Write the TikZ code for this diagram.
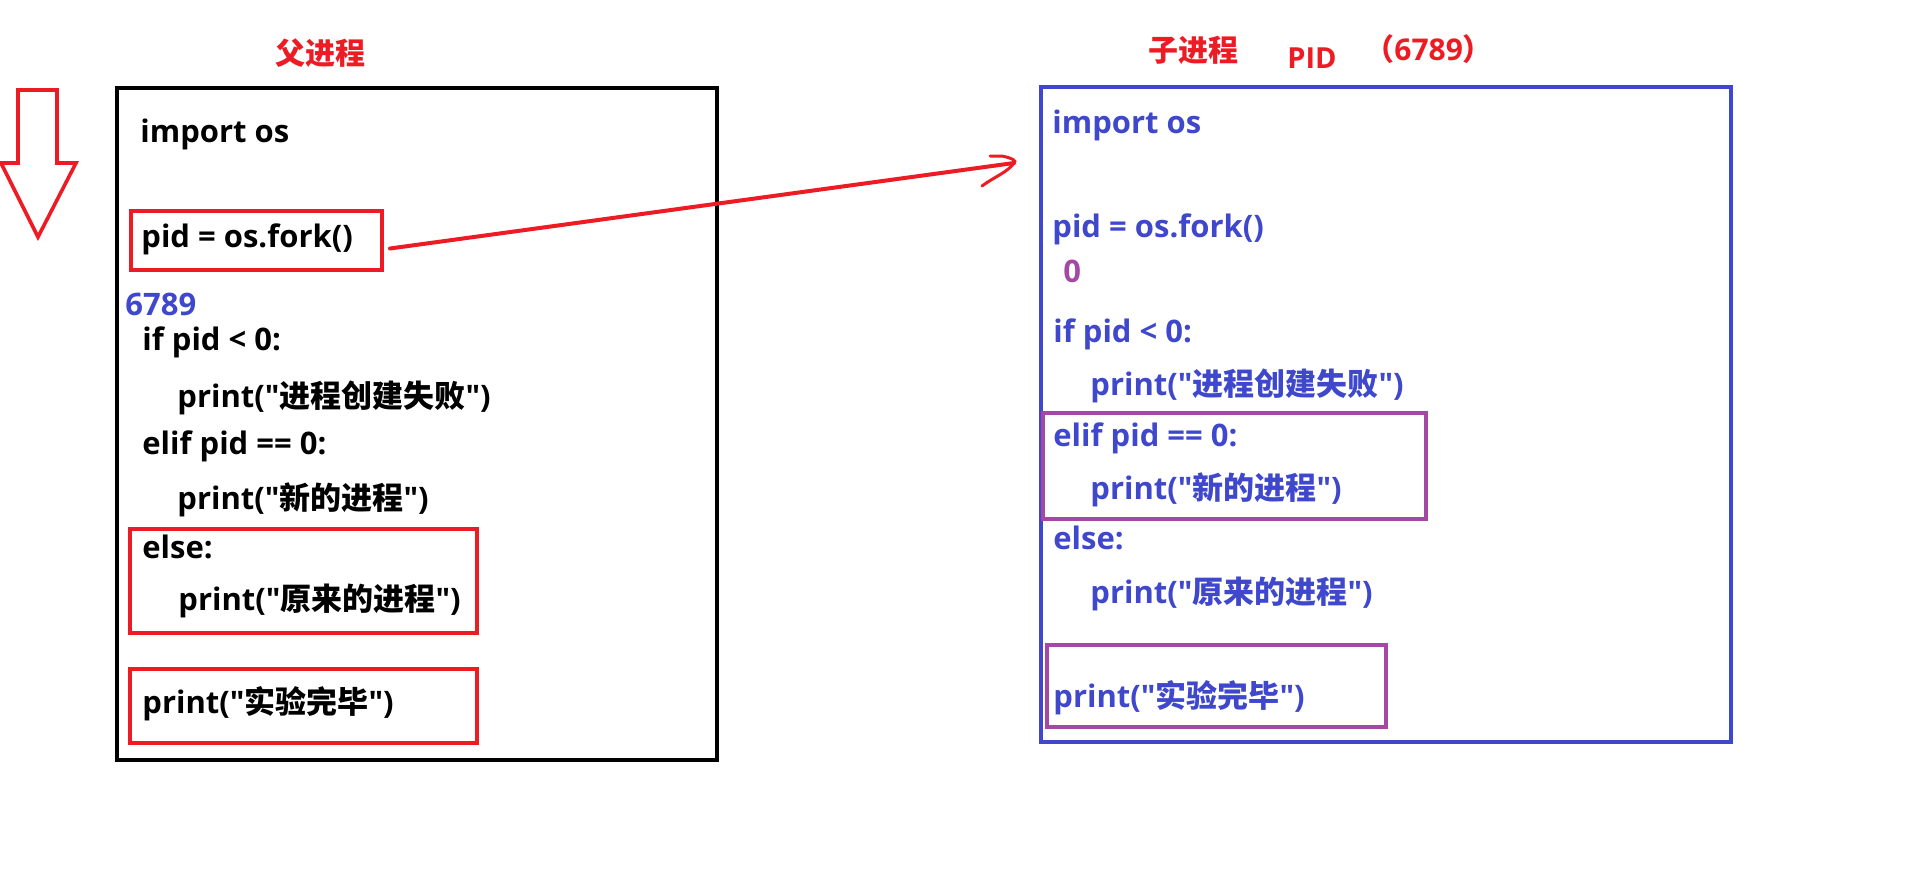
\documentclass[tikz,border=0pt]{standalone}
\usepackage{fontspec}
\setmainfont{Open Sans}[Ligatures=TeXOff]
\newfontfamily\cjk{Noto Sans CJK SC}[Ligatures=TeXOff]
\newcommand{\zh}[1]{{\cjk #1}}
\usepackage{tikz}
\usetikzlibrary{positioning, fit, arrows.meta}
\definecolor{paintred}{HTML}{ED1C24}
\definecolor{paintblue}{HTML}{3F48CC}
\definecolor{paintpurple}{HTML}{A349A4}

\begin{document}
\begin{tikzpicture}[
		x=0.5pt, y=-0.5pt,
		code/.style={anchor=base west, inner sep=0pt, font=\bfseries\fontsize{15.5}{18}\selectfont},
		title/.style={inner sep=0pt, text=paintred, font=\bfseries\fontsize{15}{18}\selectfont},
		frame/.style={draw, line width=2pt, inner sep=0pt},
		mark box/.style={draw=paintred, line width=2pt, inner sep=0pt},
		child box/.style={draw=paintpurple, line width=2pt, inner sep=0pt},
		redpen/.style={draw=paintred, line width=2pt, line cap=round},
		]
		\useasboundingbox (0,0) rectangle (1914,889);
		
		% down arrow
		\draw[paintred, line width=1.8pt, line join=miter] (18,90) -- (57,90) -- (57,163) -- (76,163) -- (38,237) -- (1,163) -- (18,163) -- cycle;
		
		% titles
		\node[title] (tparent) at (320,53) {\zh{父进程}};
		\node[title] (tchild) at (1193,50) {\zh{子进程}};
		\node[title, anchor=base west, font=\bfseries\fontsize{14.5}{18}\selectfont] (tpid) at (1287,68) {PID};
		\node[title, anchor=base west] (tpidnum) at (1364,60) {\zh{（}6789\zh{）}};
		
		% parent process
		\node[code] (importL) at (140,142) {import os};
		\node[code] (forkL) at (141,247) {pid = os.fork()};
		\node[code, text=paintblue] (pidL) at (125,315) {6789};
		\node[code] (ifL) at (142,350) {if pid < 0:};
		\node[code] (failL) at (177,407) {print("\zh{进程创建失败}")};
		\node[code] (elifL) at (142,454) {elif pid == 0:};
		\node[code] (newL) at (177,509) {print("\zh{新的进程}")};
		\node[code] (elseL) at (142,558) {else:};
		\node[code] (origL) at (178,610) {print("\zh{原来的进程}")};
		\node[code] (doneL) at (142,713) {print("\zh{实验完毕}")};
		
		\node[frame, fit={(117,88) (717,760)}] (fitL) {};
		\node[mark box, fit={(131,211) (382,270)}] (forkboxL) {};
		\node[mark box, fit={(130,529) (477,633)}] (elseboxL) {};
		\node[mark box, fit={(130,669) (477,743)}] (doneboxL) {};
		
		% child process
		\begin{scope}[every node/.append style={text=paintblue}]
		\node[code] (importR) at (1052,133) {import os};
		\node[code] (forkR) at (1052,237) {pid = os.fork()};
		\node[code, text=paintpurple] (zeroR) at (1063,282) {0};
		\node[code] (ifR) at (1053,342) {if pid < 0:};
		\node[code] (failR) at (1090,395) {print("\zh{进程创建失败}")};
		\node[code] (elifR) at (1053,446) {elif pid == 0:};
		\node[code] (newR) at (1090,499) {print("\zh{新的进程}")};
		\node[code] (elseR) at (1053,549) {else:};
		\node[code] (origR) at (1090,603) {print("\zh{原来的进程}")};
		\node[code] (doneR) at (1053,707) {print("\zh{实验完毕}")};
		\end{scope}
		
		\node[frame, draw=paintblue, fit={(1041,87) (1731,742)}] (fitR) {};
		\node[child box, fit={(1043,413) (1426,519)}] (elifboxR) {};
		\node[child box, fit={(1047,645) (1386,727)}] (doneboxR) {};
		
		% fork arrow
		\coordinate (tipA) at (1014,163);
		\draw[redpen] ([shift={(6,8)}]forkboxL.east) -- (tipA);
		\draw[redpen, line width=1.5pt] ([shift={(-24,-7)}]tipA) -- ([shift={(-12,-7)}]tipA) .. controls ([shift={(-2,-5)}]tipA) and ([shift={(3,-2)}]tipA) .. (tipA) .. controls ([shift={(-6,9)}]tipA) and ([shift={(-20,14)}]tipA) .. ([shift={(-32,23)}]tipA);
		\end{tikzpicture}
\end{document}
